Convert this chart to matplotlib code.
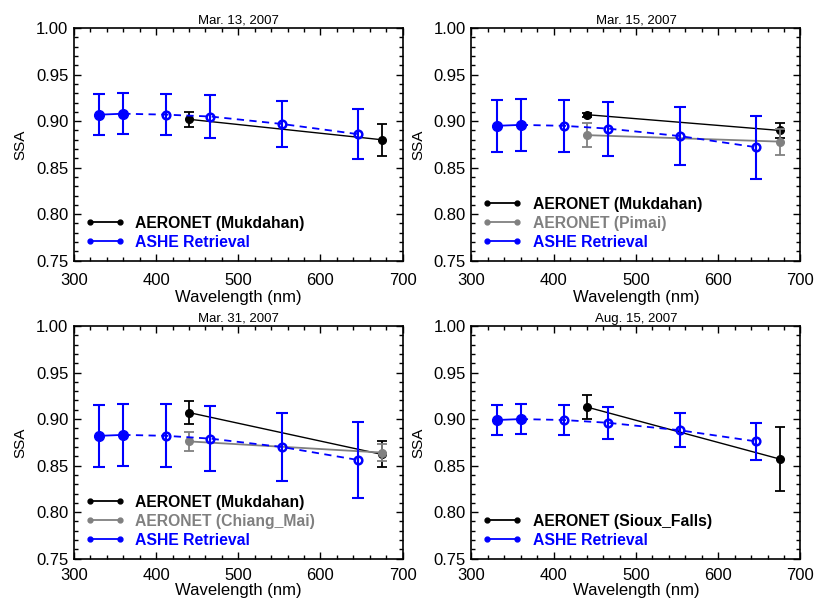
import matplotlib
matplotlib.use("Agg")
import matplotlib.pyplot as plt
from matplotlib.lines import Line2D
from matplotlib.ticker import MultipleLocator

plt.rcParams['font.family'] = ['Liberation Sans', 'DejaVu Sans']

# ---------------- data ----------------
ashe_wl = [331, 360, 412, 466, 553, 646]
aero_wl = [440, 675]

titles = ["Mar. 13, 2007", "Mar. 15, 2007", "Mar. 31, 2007", "Aug. 15, 2007"]

ashe_ssa = [
    [0.907, 0.908, 0.907, 0.905, 0.897, 0.886],
    [0.895, 0.896, 0.895, 0.892, 0.884, 0.872],
    [0.882, 0.883, 0.882, 0.879, 0.870, 0.856],
    [0.899, 0.900, 0.899, 0.896, 0.888, 0.876],
]
ashe_err = [
    [0.022, 0.022, 0.022, 0.023, 0.025, 0.027],
    [0.028, 0.028, 0.028, 0.029, 0.031, 0.034],
    [0.033, 0.033, 0.034, 0.035, 0.037, 0.041],
    [0.016, 0.016, 0.016, 0.017, 0.018, 0.020],
]

# primary AERONET site (black)
aero1_name = ["Mukdahan", "Mukdahan", "Mukdahan", "Sioux_Falls"]
aero1_ssa = [[0.902, 0.880], [0.907, 0.890], [0.907, 0.862], [0.913, 0.857]]
aero1_err = [[0.008, 0.017], [0.002, 0.008], [0.012, 0.014], [0.013, 0.034]]

# secondary AERONET site (gray), None where absent
aero2_name = [None, "Pimai", "Chiang_Mai", None]
aero2_ssa = [None, [0.885, 0.878], [0.876, 0.864], None]
aero2_err = [None, [0.013, 0.014], [0.010, 0.009], None]

BLUE = '#0000ff'
GRAY = '#808080'

fig = plt.figure(figsize=(8.14, 6.01), dpi=100)
positions = [
    [0.0909, 0.5662, 0.4036, 0.387],
    [0.5792, 0.5662, 0.4042, 0.387],
    [0.0909, 0.0705, 0.4036, 0.387],
    [0.5792, 0.0705, 0.4042, 0.387],
]
xpads = [9, 9, 7, 7]
xlabpads = [1, 1, 0, 0]

for i in range(4):
    ax = fig.add_axes(positions[i])
    ax.set_xlim(300, 700)
    ax.set_ylim(0.75, 1.00)

    # AERONET secondary (gray)
    if aero2_ssa[i] is not None:
        ax.errorbar(aero_wl, aero2_ssa[i], yerr=aero2_err[i], color=GRAY,
                    marker='o', ms=5.5, lw=1.3, elinewidth=1.3, capsize=3.5,
                    capthick=1.3, zorder=3)
    # AERONET primary (black)
    ax.errorbar(aero_wl, aero1_ssa[i], yerr=aero1_err[i], color='black',
                marker='o', ms=5.5, lw=1.0, elinewidth=1.3, capsize=3.5,
                capthick=1.3, zorder=2)

    # ASHE
    ax.errorbar(ashe_wl, ashe_ssa[i], yerr=ashe_err[i], fmt='none',
                ecolor=BLUE, elinewidth=1.5, capsize=4, capthick=1.5, zorder=4)
    ax.plot(ashe_wl[:2], ashe_ssa[i][:2], color=BLUE, lw=1.3, zorder=4)
    ax.plot(ashe_wl[1:], ashe_ssa[i][1:], color=BLUE, lw=1.3,
            ls=(0, (4, 3)), zorder=4)
    ax.plot(ashe_wl[:2], ashe_ssa[i][:2], 'o', color=BLUE, ms=7, zorder=5)
    ax.plot(ashe_wl[2:], ashe_ssa[i][2:], 'o', mfc='none', mec=BLUE,
            mew=1.8, ms=5.5, zorder=5)

    # axes styling
    ax.xaxis.set_major_locator(MultipleLocator(100))
    ax.xaxis.set_minor_locator(MultipleLocator(20))
    ax.yaxis.set_major_locator(MultipleLocator(0.05))
    ax.yaxis.set_minor_locator(MultipleLocator(0.01))
    ax.yaxis.set_major_formatter(matplotlib.ticker.FormatStrFormatter('%.2f'))
    ax.tick_params(which='both', direction='in', top=True, right=True,
                   width=1.0, labelsize=12)
    ax.tick_params(which='major', length=5, pad=4)
    ax.tick_params(which='minor', length=3)
    ax.tick_params(axis='x', which='major', pad=xpads[i])
    for s in ax.spines.values():
        s.set_linewidth(1.2)
    ax.set_xlabel("Wavelength (nm)", fontsize=12, labelpad=xlabpads[i])
    ax.set_ylabel("SSA", fontsize=11, labelpad=6)
    ax.set_title(titles[i], fontsize=9.5, pad=3)

    # legend
    handles = [Line2D([0], [0], color='black', marker='o', ms=3.5, lw=1.3)]
    labels = [f"AERONET ({aero1_name[i]})"]
    colors = ['black']
    if aero2_name[i] is not None:
        handles.append(Line2D([0], [0], color=GRAY, marker='o', ms=3.5, lw=1.3))
        labels.append(f"AERONET ({aero2_name[i]})")
        colors.append(GRAY)
    handles.append(Line2D([0], [0], color=BLUE, marker='o', ms=3.5, lw=1.3))
    labels.append("ASHE Retrieval")
    colors.append(BLUE)
    leg = ax.legend(handles, labels, loc='lower left', numpoints=2,
                    frameon=False, handlelength=2.5, handletextpad=0.7,
                    labelspacing=0.25, borderaxespad=0.3,
                    prop={'weight': 'bold', 'size': 11.3})
    for t, c in zip(leg.get_texts(), colors):
        t.set_color(c)

fig.savefig("out.png", dpi=100)
